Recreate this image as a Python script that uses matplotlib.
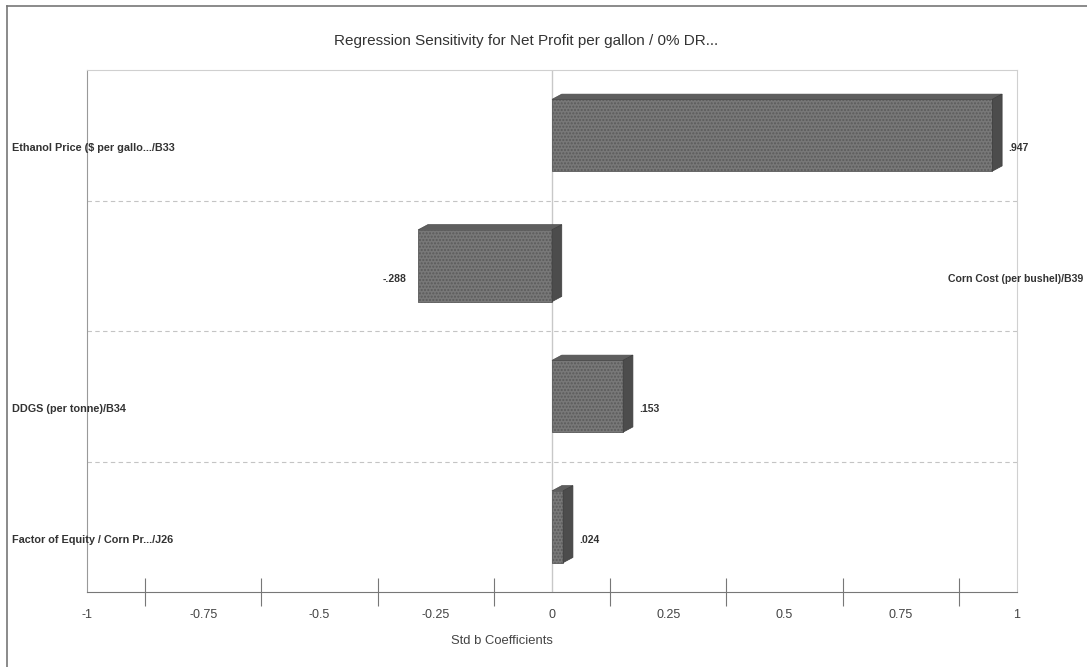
import matplotlib.pyplot as plt
from matplotlib.patches import Polygon
from matplotlib.lines import Line2D
import matplotlib.transforms as mtransforms
import numpy as np

plt.rcParams['font.family'] = ['Liberation Sans', 'DejaVu Sans']

# data
labels = ["Ethanol Price ($ per gallo.../B33", "Corn Cost (per bushel)/B39",
          "DDGS (per tonne)/B34", "Factor of Equity / Corn Pr.../J26"]
values = [0.947, -0.288, 0.153, 0.024]
value_text = [".947", "-.288", ".153", ".024"]
tick_vals = [-1, -0.75, -0.5, -0.25, 0, 0.25, 0.5, 0.75, 1]
tick_text = ["-1", "-0.75", "-0.5", "-0.25", "0", "0.25", "0.5", "0.75", "1"]

W, H = 1087, 667
fig = plt.figure(figsize=(W / 100, H / 100), dpi=100)
ax = fig.add_axes([87 / W, 1 - 592 / H, 930 / W, 522 / H])

ypos = np.arange(len(values))
bar_h = 0.55
face = '#787878'
dx, dy = 0.021, 0.04  # depth of the 3d look, in data units

ax.axvline(0, color='#c8c8c8', lw=1, zorder=1)
for y in ypos[:-1] + 0.5:
    ax.axhline(y, color='#c4c4c4', lw=0.8, ls=(0, (4, 3)), zorder=1)

bars = ax.barh(ypos, values, height=bar_h, color=face, edgecolor='#5a5a5a',
               lw=0.6, hatch='.....', zorder=3)

for y, v in zip(ypos, values):
    x0, x1 = min(0, v), max(0, v)
    top = y - bar_h / 2
    bot = y + bar_h / 2
    top_face = Polygon([(x0, top), (x0 + dx, top - dy), (x1 + dx, top - dy), (x1, top)],
                       closed=True, fc='#5e5e5e', ec='#4a4a4a', lw=0.5, zorder=3)
    side_face = Polygon([(x1, top), (x1 + dx, top - dy), (x1 + dx, bot - dy), (x1, bot)],
                        closed=True, fc='#4c4c4c', ec='#3e3e3e', lw=0.5, zorder=3)
    ax.add_patch(top_face)
    ax.add_patch(side_face)

# value labels
for y, v, t in zip(ypos, values, value_text):
    if v >= 0:
        ax.text(v + 0.035, y + 0.1, t, ha='left', va='center', fontsize=7.5,
                fontweight='bold', color='#333333', zorder=4)
    else:
        ax.text(v - 0.025, y + 0.1, t, ha='right', va='center', fontsize=7.5,
                fontweight='bold', color='#333333', zorder=4)

# category labels sit outside the plot area
blend = mtransforms.blended_transform_factory(fig.transFigure, ax.transData)
for y, v, lab in zip(ypos, values, labels):
    if v >= 0:
        ax.text(12 / W, y + 0.1, lab, transform=blend, ha='left', va='center',
                fontsize=7.8, fontweight='bold', color='#333333', clip_on=False)
    else:
        ax.text(1083 / W, y + 0.1, lab, transform=blend, ha='right', va='center',
                fontsize=7.6, fontweight='bold', color='#333333', clip_on=False)

ax.set_xlim(-1, 1)
ax.set_ylim(len(values) - 0.5, -0.5)
ax.set_yticks([])
ax.set_xticks(tick_vals)
ax.set_xticklabels(tick_text, fontsize=9, color='#444444')
ax.set_xticks(np.arange(-0.875, 0.9, 0.25), minor=True)
ax.tick_params(axis='x', which='major', length=0, pad=12)
ax.tick_params(axis='x', which='minor', length=20, direction='inout',
               color='#777777', width=0.8)
for s in ['top', 'right']:
    ax.spines[s].set_color('#d0d0d0')
ax.spines['left'].set_color('#999999')
ax.spines['bottom'].set_color('#777777')

fig.text(502 / W, 1 - 641 / H, "Std b Coefficients", ha='center', va='center',
         fontsize=9.4, color='#444444')
fig.text(526 / W, 1 - 41 / H, "Regression Sensitivity for Net Profit per gallon / 0% DR...",
         ha='center', va='center', fontsize=11, color='#333333')

# outer frame (top and left edges)
fig.add_artist(Line2D([7 / W, 1], [1 - 6 / H, 1 - 6 / H], transform=fig.transFigure,
                      color='#777777', lw=1.2))
fig.add_artist(Line2D([7 / W, 7 / W], [0, 1 - 6 / H], transform=fig.transFigure,
                      color='#777777', lw=1.2))

plt.savefig('out.png', dpi=100)
